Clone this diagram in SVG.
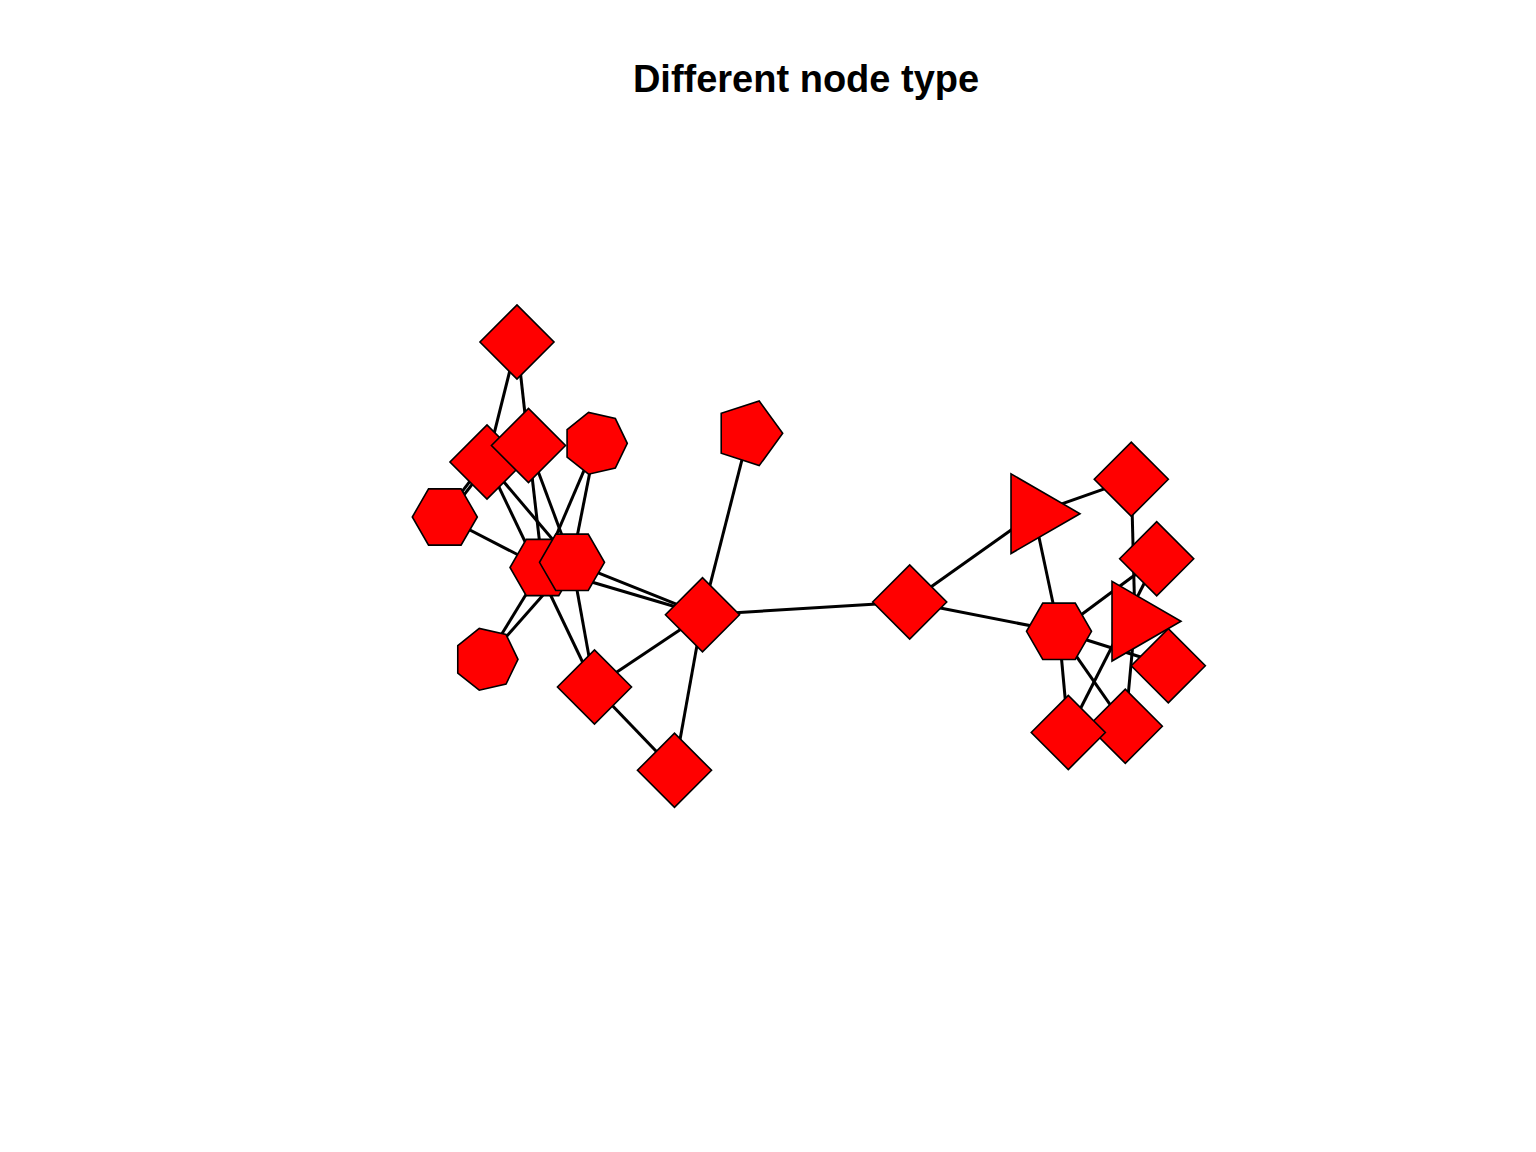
<svg xmlns="http://www.w3.org/2000/svg" width="1536" height="1152" viewBox="0 0 1536 1152">
<style>
.e{stroke:#000;stroke-width:3;fill:none;stroke-linecap:butt}
.n{fill:#ff0000;stroke:#000;stroke-width:1.6;stroke-linejoin:miter}
.title{font-family:"Liberation Sans",Arial,sans-serif;font-weight:bold;font-size:38px;fill:#000}
</style>
<defs>
<polygon id="diamond" points="37.05,0 0,37.05 -37.05,0 0,-37.05"/>
<polygon id="triangle" points="45.97,0 -22.99,39.81 -22.99,-39.81"/>
<polygon id="pentagon" points="33.98,0 10.50,32.32 -27.49,19.97 -27.49,-19.97 10.50,-32.32"/>
<polygon id="hexagon" points="32.5,0 16.25,28.15 -16.25,28.15 -32.5,0 -16.25,-28.15 16.25,-28.15"/>
<polygon id="heptagon" points="31.67,0 19.75,24.76 -7.05,30.87 -28.53,13.74 -28.53,-13.74 -7.05,-30.87 19.75,-24.76"/>
</defs>
<rect width="1536" height="1152" fill="#fff"/>
<text class="title" x="806" y="92" text-anchor="middle">Different node type</text>
<g id="edges">
<line class="e" x1="517" y1="342" x2="487" y2="462"/>
<line class="e" x1="517" y1="342" x2="528.5" y2="445.5"/>
<line class="e" x1="528.5" y1="445.5" x2="542.5" y2="567.5"/>
<line class="e" x1="528.5" y1="445.5" x2="572" y2="562.3"/>
<line class="e" x1="487" y1="462" x2="572" y2="562.3"/>
<line class="e" x1="487" y1="462" x2="594.5" y2="687"/>
<line class="e" x1="446.2" y1="518.1" x2="488.4" y2="463.1"/>
<line class="e" x1="443.4" y1="515.9" x2="485.6" y2="460.9"/>
<line class="e" x1="444.8" y1="517" x2="542.5" y2="567.5"/>
<line class="e" x1="595.6" y1="443.3" x2="542.5" y2="567.5"/>
<line class="e" x1="595.6" y1="443.3" x2="572" y2="562.3"/>
<line class="e" x1="486.3" y1="659.3" x2="542.5" y2="567.5"/>
<line class="e" x1="486.3" y1="659.3" x2="572" y2="562.3"/>
<line class="e" x1="542.5" y1="567.5" x2="702.5" y2="614.7"/>
<line class="e" x1="572" y1="562.3" x2="702.5" y2="614.7"/>
<line class="e" x1="572" y1="562.3" x2="594.5" y2="687"/>
<line class="e" x1="748.7" y1="433.3" x2="702.5" y2="614.7"/>
<line class="e" x1="702.5" y1="614.7" x2="594.5" y2="687"/>
<line class="e" x1="702.5" y1="614.7" x2="674.5" y2="770.3"/>
<line class="e" x1="594.5" y1="687" x2="674.5" y2="770.3"/>
<line class="e" x1="702.5" y1="614.7" x2="909.7" y2="602"/>
<line class="e" x1="909.7" y1="602" x2="1034" y2="513.7"/>
<line class="e" x1="909.7" y1="602" x2="1059" y2="631.3"/>
<line class="e" x1="1034" y1="513.7" x2="1131.3" y2="479.3"/>
<line class="e" x1="1034" y1="513.7" x2="1059" y2="631.3"/>
<line class="e" x1="1131.3" y1="479.3" x2="1135" y2="621.2"/>
<line class="e" x1="1135" y1="621.2" x2="1125.3" y2="726.3"/>
<line class="e" x1="1059" y1="631.3" x2="1156.7" y2="558.8"/>
<line class="e" x1="1059" y1="631.3" x2="1168.3" y2="665.7"/>
<line class="e" x1="1059" y1="631.3" x2="1068.3" y2="732.5"/>
<line class="e" x1="1059" y1="631.3" x2="1125.3" y2="726.3"/>
<line class="e" x1="1068.3" y1="732.5" x2="1156.7" y2="558.8"/>
</g>
<g id="n1"><use class="n" href="#diamond" x="517" y="342"/></g>
<g id="n2"><use class="n" href="#diamond" x="487" y="462"/></g>
<g id="n3"><use class="n" href="#diamond" x="528.5" y="445.5"/></g>
<g id="n4"><use class="n" href="#heptagon" x="595.6" y="443.3"/></g>
<g id="n5"><use class="n" href="#hexagon" x="444.8" y="517"/></g>
<g id="n6"><use class="n" href="#hexagon" x="542.5" y="567.5"/></g>
<g id="n7"><use class="n" href="#hexagon" x="572" y="562.3"/></g>
<g id="n8"><use class="n" href="#heptagon" x="486.3" y="659.3"/></g>
<g id="n9"><use class="n" href="#pentagon" x="748.7" y="433.3"/></g>
<g id="n10"><use class="n" href="#diamond" x="702.5" y="614.7"/></g>
<g id="n11"><use class="n" href="#diamond" x="594.5" y="687"/></g>
<g id="n12"><use class="n" href="#diamond" x="674.5" y="770.3"/></g>
<g id="n13"><use class="n" href="#diamond" x="909.7" y="602"/></g>
<g id="r1"><use class="n" href="#triangle" x="1034" y="513.7"/></g>
<g id="r2"><use class="n" href="#diamond" x="1131.3" y="479.3"/></g>
<g id="r3"><use class="n" href="#diamond" x="1156.7" y="558.8"/></g>
<g id="r6"><use class="n" href="#diamond" x="1168.3" y="665.7"/></g>
<g id="r4"><use class="n" href="#triangle" x="1135" y="621.2"/></g>
<g id="r5"><use class="n" href="#hexagon" x="1059" y="631.3"/></g>
<g id="r8"><use class="n" href="#diamond" x="1125.3" y="726.3"/></g>
<g id="r7"><use class="n" href="#diamond" x="1068.3" y="732.5"/></g>
</svg>
